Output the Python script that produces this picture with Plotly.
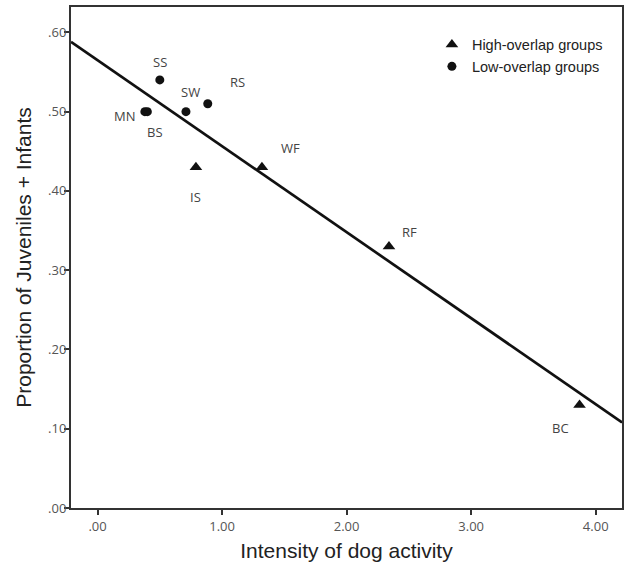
import numpy as np
import plotly.graph_objects as go

# ---- data ----
high_labels = ["IS", "WF", "RF", "BC"]
high_x = [0.79, 1.32, 2.34, 3.87]
high_y = [0.43, 0.43, 0.33, 0.13]

low_labels = ["SS", "MN", "BS", "SW", "RS"]
low_x = [0.50, 0.38, 0.40, 0.71, 0.885]
low_y = [0.54, 0.50, 0.50, 0.50, 0.51]

x_tickvals = [0, 1, 2, 3, 4]
x_ticktext = [".00", "1.00", "2.00", "3.00", "4.00"]
y_tickvals = [0, 0.1, 0.2, 0.3, 0.4, 0.5, 0.6]
y_ticktext = [".00", ".10", ".20", ".30", ".40", ".50", ".60"]

x_range = [-0.213, 4.211]
y_range = [0, 0.632]

# label offsets in pixels (style only)
label_shift = {
    "SS": (0, 18), "MN": (-20, -4), "BS": (8, -20), "SW": (5, 20),
    "RS": (30, 22), "IS": (0, -30), "WF": (29, 19), "RF": (21, 14),
    "BC": (-19, -23),
}

# regression fitted over all points
all_x = np.array(high_x + low_x)
all_y = np.array(high_y + low_y)
slope, intercept = np.polyfit(all_x, all_y, 1)
line_x = np.array(x_range)
line_y = slope * line_x + intercept

fig = go.Figure()
fig.add_trace(go.Scatter(
    x=line_x, y=line_y, mode="lines",
    line=dict(color="#111111", width=2.7), showlegend=False, hoverinfo="skip",
))
fig.add_trace(go.Scatter(
    x=high_x, y=high_y, mode="markers", name="High-overlap groups",
    legendgroup="high",
    marker=dict(symbol="triangle-up", size=11, color="#111111"),
))
fig.add_trace(go.Scatter(
    x=low_x, y=low_y, mode="markers", name="Low-overlap groups",
    legendgroup="low",
    marker=dict(symbol="circle", size=9, color="#111111"),
))

for labs, xs, ys in ((high_labels, high_x, high_y), (low_labels, low_x, low_y)):
    for lab, xv, yv in zip(labs, xs, ys):
        dx, dy = label_shift[lab]
        fig.add_annotation(
            x=xv, y=yv, text=lab, showarrow=False, xshift=dx, yshift=dy,
            font=dict(family="Open Sans", size=13, color="#444444"),
        )

axis_common = dict(
    showline=True, linecolor="#333333", linewidth=2, mirror=True,
    ticks="outside", ticklen=5, tickwidth=1.5, tickcolor="#333333",
    showgrid=False, zeroline=False,
    tickfont=dict(family="Open Sans", size=13, color="#555555"),
    title_font=dict(family="Liberation Sans", size=21, color="#222222"),
)

fig.update_xaxes(
    range=x_range, tickvals=x_tickvals, ticktext=x_ticktext,
    title_text="Intensity of dog activity", title_standoff=10, **axis_common,
)
fig.update_yaxes(
    range=y_range, tickvals=y_tickvals, ticktext=y_ticktext,
    ticklabelstandoff=-5,
    title_text="Proportion of Juveniles + Infants", title_standoff=11, **axis_common,
)

fig.update_layout(
    width=624, height=573,
    margin=dict(l=71, r=2, t=7, b=64.5, autoexpand=False),
    plot_bgcolor="white", paper_bgcolor="white",
    legend=dict(
        x=0.655, y=0.957, xanchor="left", yanchor="top",
        bgcolor="rgba(0,0,0,0)",
        font=dict(family="Liberation Sans", size=14.5, color="#222222"),
        tracegroupgap=0, itemsizing="trace",
    ),
    showlegend=True,
)

# remove the default page margin so the 624x573 figure fills the window exactly
fig.write_html(
    "out.html",
    config={"displayModeBar": False},
    post_script="document.body.style.margin='0';document.body.style.overflow='hidden';",
)
